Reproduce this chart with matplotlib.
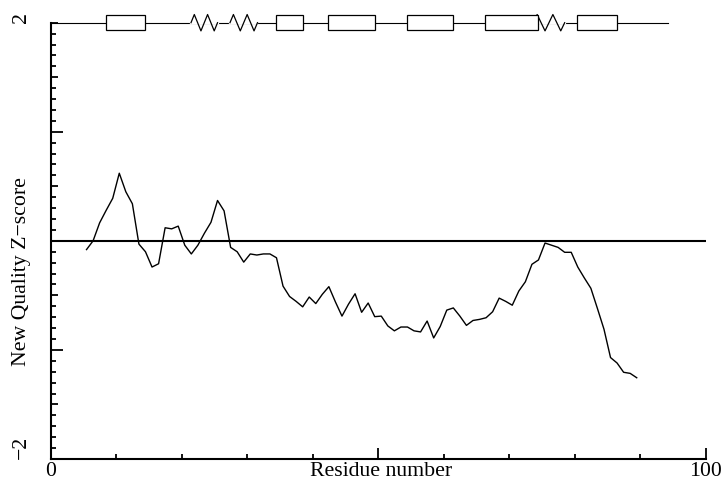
import numpy as np
import matplotlib
matplotlib.use("Agg")
import matplotlib.pyplot as plt
from matplotlib.patches import Rectangle
from matplotlib.ticker import MultipleLocator, FixedLocator, FixedFormatter

# ---------------- data ----------------
residues = np.arange(6, 91)
zscore = [
    -0.08, 0.00, 0.165, 0.28, 0.39, 0.62, 0.45, 0.34, -0.03, -0.10,
    -0.24, -0.21, 0.12, 0.11, 0.135, -0.04, -0.12, -0.04, 0.07, 0.17,
    0.37, 0.275, -0.06, -0.10, -0.195, -0.12, -0.13, -0.12, -0.12, -0.155,
    -0.415, -0.51, -0.555, -0.605, -0.515, -0.575, -0.49, -0.42, -0.56, -0.69,
    -0.58, -0.485, -0.655, -0.57, -0.695, -0.69, -0.78, -0.825, -0.79, -0.79,
    -0.825, -0.835, -0.735, -0.89, -0.785, -0.635, -0.615, -0.69, -0.775, -0.73,
    -0.72, -0.705, -0.65, -0.525, -0.555, -0.59, -0.46, -0.375, -0.215, -0.175,
    -0.02, -0.04, -0.06, -0.105, -0.105, -0.24, -0.34, -0.435, -0.62, -0.81,
    -1.07, -1.12, -1.205, -1.215, -1.255,
]
# secondary structure track
track_start, track_end = 0.0, 94.3
box_starts = [8.5, 34.5, 42.4, 54.5, 66.4, 80.4]
box_ends = [14.5, 38.5, 49.5, 61.5, 74.5, 86.5]
zig_starts = [21.45, 27.4, 73.7]
zig_ends = [25.5, 31.6, 78.5]

xlabel = "Residue number"
ylabel = "New Quality Z\u2212score"

# ---------------- figure ----------------
plt.rcParams['font.family'] = ['Liberation Serif', 'DejaVu Serif']
fig = plt.figure(figsize=(7.23, 4.83), dpi=100)
ax = fig.add_axes([50.5 / 723, 24 / 483, 655 / 723, 436.3 / 483])
ax.set_xlim(0, 100)
ax.set_ylim(-2, 2)

for s in ['top', 'right']:
    ax.spines[s].set_visible(False)
for s in ['left', 'bottom']:
    ax.spines[s].set_linewidth(1.5)

# zero line
ax.plot([0, 100], [0, 0], color='black', lw=1.5, solid_capstyle='butt')

# curve
ax.plot(residues - 0.5, zscore, color='black', lw=1.0)

# secondary-structure track at y = 2
ytr = 2.0
ax.plot([track_start, track_end], [ytr, ytr], color='black', lw=0.8, clip_on=False, zorder=3)
amp = 0.075
for a, b in zip(zig_starts, zig_ends):
    fr = np.array([0, 1/8, 3/8, 5/8, 7/8, 1])
    yy = ytr + amp * np.array([0, 1, -1, 1, -1, 0])
    ax.plot([a, b], [ytr, ytr], color='white', lw=1.6, clip_on=False, zorder=3.5)
    ax.plot(a + fr * (b - a), yy, color='black', lw=0.9, clip_on=False, zorder=4)
bh = 0.069
for a, b in zip(box_starts, box_ends):
    ax.add_patch(Rectangle((a, ytr - bh), b - a, 2 * bh, facecolor='white',
                           edgecolor='black', lw=0.9, clip_on=False, zorder=5))

# x ticks
ax.xaxis.set_major_locator(FixedLocator([0, 50, 100]))
ax.xaxis.set_major_formatter(FixedFormatter(['0', '', '100']))
ax.xaxis.set_minor_locator(MultipleLocator(10))
ax.tick_params(axis='x', which='major', direction='in', length=7.7, width=1.3,
               labelsize=15.7, pad=2.5)
ax.tick_params(axis='x', which='minor', direction='in', length=3.4, width=1.3)

# y ticks: major every 0.5 (medium), minor every 0.1, long at +-1
ymaj = [-2, -1.5, -1, -0.5, 0, 0.5, 1, 1.5, 2]
ymaj_labels = ['\u22122', '', '', '', '', '', '', '', '2']
ax.yaxis.set_major_locator(FixedLocator(ymaj))
ax.yaxis.set_major_formatter(FixedFormatter(ymaj_labels))
ax.yaxis.set_minor_locator(MultipleLocator(0.1))
ax.tick_params(axis='y', which='major', direction='in', length=5.0, width=1.3,
               labelsize=15.7, pad=14.3, labelrotation=90)
ax.tick_params(axis='y', which='minor', direction='in', length=3.6, width=1.3)
for loc, tick in zip(ymaj, ax.yaxis.get_major_ticks(len(ymaj))):
    if abs(loc) == 1:
        tick.tick1line.set_markersize(8.4)
    tick.label1.set_va('bottom')

ax.set_xlabel(xlabel, fontsize=15.7)
ax.xaxis.set_label_coords(0.505, -0.0076)
ax.set_ylabel(ylabel, fontsize=15.7)
ax.yaxis.set_label_coords(-0.0305, 0.429)

fig.savefig('out.png', dpi=100)
